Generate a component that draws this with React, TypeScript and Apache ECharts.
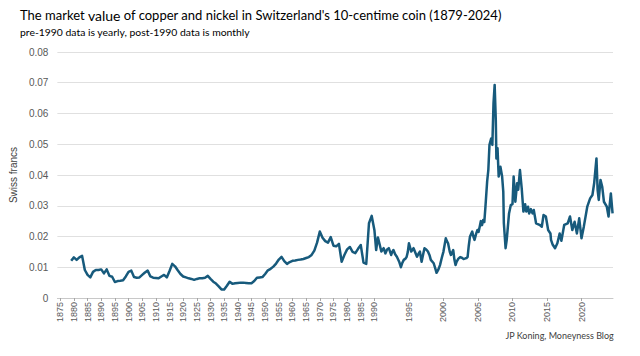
import React, { useEffect, useRef } from "react";
import * as echarts from "echarts";

const TITLE_A = "The market ";
const TITLE_B = "value";
const TITLE_C = " of copper and nickel in Switzerland's 10-centime coin (1879-2024)";
const SUBTITLE = "pre-1990 data is yearly, post-1990 data is monthly";
const Y_NAME = "Swiss francs";
const SOURCE = "JP Koning, Moneyness Blog";

// Yearly readings 1879-1989
const preYears: number[] = Array.from({ length: 111 }, (_, i) => 1879 + i);
const preValues: number[] = [
  0.0121, 0.0132, 0.0124, 0.0132, 0.0137, 0.0091, 0.0075, 0.0067, 0.0085, 0.0091, // 1879-1888
  0.0091, 0.0093, 0.0080, 0.0093, 0.0072, 0.0069, 0.0052, 0.0055, 0.0056, 0.0058, // 1889-1898
  0.0070, 0.0085, 0.0089, 0.0068, 0.0066, 0.0067, 0.0075, 0.0083, 0.0089, 0.0070, // 1899-1908
  0.0066, 0.0065, 0.0064, 0.0070, 0.0075, 0.0067, 0.0088, 0.0111, 0.0103, 0.0090, // 1909-1918
  0.0078, 0.0070, 0.0067, 0.0064, 0.0062, 0.0059, 0.0062, 0.0064, 0.0064, 0.0066, // 1919-1928
  0.0072, 0.0062, 0.0053, 0.0047, 0.0038, 0.0028, 0.0028, 0.0040, 0.0053, 0.0046, // 1929-1938
  0.0048, 0.0049, 0.0050, 0.0050, 0.0049, 0.0048, 0.0048, 0.0055, 0.0066, 0.0067, // 1939-1948
  0.0068, 0.0078, 0.0090, 0.0095, 0.0102, 0.0112, 0.0125, 0.0134, 0.0120, 0.0111, // 1949-1958
  0.0117, 0.0121, 0.0122, 0.0124, 0.0125, 0.0127, 0.0130, 0.0133, 0.0140, 0.0154, // 1959-1968
  0.0180, 0.0216, 0.0196, 0.0185, 0.0180, 0.0198, 0.0170, 0.0168, 0.0176, 0.0118, // 1969-1978
  0.0140, 0.0158, 0.0166, 0.0150, 0.0146, 0.0160, 0.0172, 0.0115, 0.0111, 0.0243, // 1979-1988
  0.0267, // 1989
];

// Monthly readings from 1990 on
const postMonths: string[] = [
  "1990-01", "1990-04", "1990-07", "1990-10", "1991-01", "1991-05", "1991-08", "1991-11",
  "1992-02", "1992-06", "1992-08", "1992-10", "1993-01", "1993-04", "1993-08", "1993-11",
  "1994-01", "1994-04", "1994-07", "1994-09", "1994-11", "1995-01", "1995-05", "1995-09",
  "1995-12", "1996-03", "1996-06", "1996-08", "1996-11", "1997-02", "1997-04", "1997-07",
  "1997-10", "1998-01", "1998-03", "1998-08", "1998-11", "1999-01", "1999-04", "1999-07",
  "1999-10", "2000-01", "2000-05", "2000-07", "2000-09", "2000-12", "2001-02", "2001-06",
  "2001-08", "2001-10", "2001-12", "2002-03", "2002-06", "2002-09", "2002-12", "2003-02",
  "2003-05", "2003-07", "2003-09", "2003-11", "2004-03", "2004-05", "2004-07", "2004-10",
  "2004-12", "2005-02", "2005-04", "2005-06", "2005-08", "2005-10", "2005-12", "2006-02",
  "2006-05", "2006-07", "2006-09", "2006-12", "2007-02", "2007-04", "2007-06", "2007-08",
  "2007-09", "2007-11", "2008-01", "2008-04", "2008-07", "2008-09", "2008-10", "2009-01",
  "2009-03", "2009-07", "2009-10", "2010-01", "2010-03", "2010-06", "2010-09", "2010-11",
  "2011-02", "2011-05", "2011-08", "2011-11", "2012-01", "2012-04", "2012-06", "2012-09",
  "2012-12", "2013-02", "2013-06", "2013-12", "2014-04", "2014-07", "2014-11", "2015-03",
  "2015-07", "2015-08", "2015-11", "2016-03", "2016-07", "2016-11", "2017-02", "2017-07",
  "2018-01", "2018-05", "2018-09", "2019-01", "2019-05", "2019-09", "2020-01", "2020-05",
  "2020-11", "2021-04", "2021-08", "2021-11", "2022-03", "2022-05", "2022-07", "2022-10",
  "2023-01", "2023-04", "2023-09", "2023-12", "2024-04", "2024-07",
];
const postValues: number[] = [
  0.0220, 0.0156, 0.0197, 0.0175, 0.0151, 0.0162, 0.0145, 0.0158,
  0.0162, 0.0140, 0.0150, 0.0156, 0.0142, 0.0134, 0.0118, 0.0100,
  0.0112, 0.0124, 0.0128, 0.0134, 0.0150, 0.0178, 0.0151, 0.0162,
  0.0148, 0.0134, 0.0145, 0.0151, 0.0118, 0.0145, 0.0162, 0.0158,
  0.0151, 0.0138, 0.0124, 0.0113, 0.0095, 0.0082, 0.0092, 0.0107,
  0.0130, 0.0151, 0.0194, 0.0185, 0.0178, 0.0150, 0.0140, 0.0156,
  0.0125, 0.0107, 0.0118, 0.0128, 0.0133, 0.0131, 0.0127, 0.0128,
  0.0130, 0.0134, 0.0170, 0.0199, 0.0216, 0.0200, 0.0189, 0.0210,
  0.0221, 0.0215, 0.0232, 0.0250, 0.0237, 0.0254, 0.0247, 0.0297,
  0.0380, 0.0416, 0.0498, 0.0519, 0.0498, 0.0633, 0.0693, 0.0579,
  0.0454, 0.0487, 0.0395, 0.0427, 0.0395, 0.0346, 0.0243, 0.0162,
  0.0189, 0.0275, 0.0302, 0.0305, 0.0395, 0.0313, 0.0373, 0.0352,
  0.0416, 0.0357, 0.0281, 0.0305, 0.0281, 0.0297, 0.0275, 0.0289,
  0.0275, 0.0286, 0.0243, 0.0238, 0.0232, 0.0270, 0.0265, 0.0221,
  0.0210, 0.0189, 0.0173, 0.0162, 0.0178, 0.0210, 0.0186, 0.0238,
  0.0243, 0.0265, 0.0221, 0.0248, 0.0210, 0.0259, 0.0194, 0.0232,
  0.0297, 0.0324, 0.0335, 0.0373, 0.0454, 0.0352, 0.0319, 0.0384,
  0.0362, 0.0313, 0.0297, 0.0265, 0.0340, 0.0275,
];

const tickYears: number[] = [
  1875, 1880, 1885, 1890, 1895, 1900, 1905, 1910, 1915, 1920, 1925, 1930, 1935, 1940,
  1945, 1950, 1955, 1960, 1965, 1970, 1975, 1980, 1985, 1990, 1995, 2000, 2005, 2010,
  2015, 2020,
];
const yTicks: number[] = [0, 0.01, 0.02, 0.03, 0.04, 0.05, 0.06, 0.07, 0.08];

// axis units: one unit = one month after 1990; a pre-1990 year spans YEAR_UNITS units
const YEAR_UNITS = 4.75;
const BASE_YEAR = 1875;
const BREAK_U = (1990 - BASE_YEAR) * YEAR_UNITS;
const yearToU = (y: number) => (y - BASE_YEAR) * YEAR_UNITS;
const monthToU = (s: string) => {
  const [y, m] = s.split("-").map(Number);
  return BREAK_U + (y - 1990) * 12 + (m - 1);
};
const tickToU = (y: number) => (y < 1990 ? yearToU(y) : BREAK_U + (y - 1990) * 12);

export default function App() {
  const ref = useRef<HTMLDivElement>(null);
  useEffect(() => {
    document.body.style.margin = "0";
    if (!ref.current) return;
    const chart = echarts.init(ref.current, undefined, { renderer: "svg" });
    const data: [number, number][] = [
      ...preYears.map((y, i) => [yearToU(y), preValues[i]] as [number, number]),
      ...postMonths.map((s, i) => [monthToU(s), postValues[i]] as [number, number]),
    ];
    const tickUs = tickYears.map(tickToU);
    const labelMap = new Map<string, string>();
    tickYears.forEach((y, i) => labelMap.set(tickUs[i].toFixed(2), String(y)));
    const axisFont = "'Liberation Sans', Arial, sans-serif";
    const titleFont = "Lato, 'Open Sans', sans-serif";
    chart.setOption({
      animation: false,
      backgroundColor: "#ffffff",
      grid: { left: 55, right: 27, top: 52, bottom: 58 },
      xAxis: {
        type: "value",
        min: -5,
        max: 961,
        axisLine: { show: true, lineStyle: { color: "#c8c8c8", width: 1 } },
        axisTick: {
          show: true,
          customValues: tickUs,
          length: 3,
          lineStyle: { color: "#a6a6a6" },
        },
        axisLabel: {
          customValues: tickUs,
          formatter: (v: number) => labelMap.get(v.toFixed(2)) ?? "",
          rotate: 90,
          fontSize: 9,
          color: "#595959",
          margin: 4,
          fontFamily: axisFont,
        },
        splitLine: { show: false },
      },
      yAxis: {
        type: "value",
        min: yTicks[0],
        max: yTicks[yTicks.length - 1],
        interval: 0.01,
        axisLine: { show: false },
        axisTick: { show: false },
        axisLabel: {
          formatter: (v: number) => (v === 0 ? "0" : v.toFixed(2)),
          fontSize: 10,
          color: "#595959",
          margin: 9,
          fontFamily: axisFont,
        },
        splitLine: { lineStyle: { color: "#e0e0e0", width: 1 } },
        name: Y_NAME,
        nameLocation: "middle",
        nameGap: 34,
        nameTextStyle: { fontSize: 10, color: "#404040", fontFamily: axisFont },
      },
      series: [
        {
          type: "line",
          data,
          showSymbol: false,
          symbol: "none",
          lineStyle: { width: 2.5, color: "#175a7c", join: "round" },
          itemStyle: { color: "#175a7c" },
        },
      ],
      graphic: [
        {
          type: "text",
          left: 20,
          top: 8,
          style: {
            text: `{a|${TITLE_A}}{b|${TITLE_B}}{a|${TITLE_C}}`,
            rich: {
              a: { fontSize: 13, fontFamily: titleFont, fill: "#000000" },
              b: { fontSize: 14, fontFamily: titleFont, fill: "#000000" },
            },
          },
        },
        {
          type: "text",
          left: 20,
          top: 27,
          style: {
            text: SUBTITLE,
            fontSize: 10.4,
            fontFamily: titleFont,
            fill: "#000000",
          },
        },
        {
          type: "text",
          right: 26,
          top: 331,
          style: {
            text: SOURCE,
            fontSize: 9,
            fontFamily: titleFont,
            fill: "#404040",
          },
        },
      ],
    });
    return () => chart.dispose();
  }, []);
  return <div ref={ref} style={{ width: 640, height: 356 }} />;
}
